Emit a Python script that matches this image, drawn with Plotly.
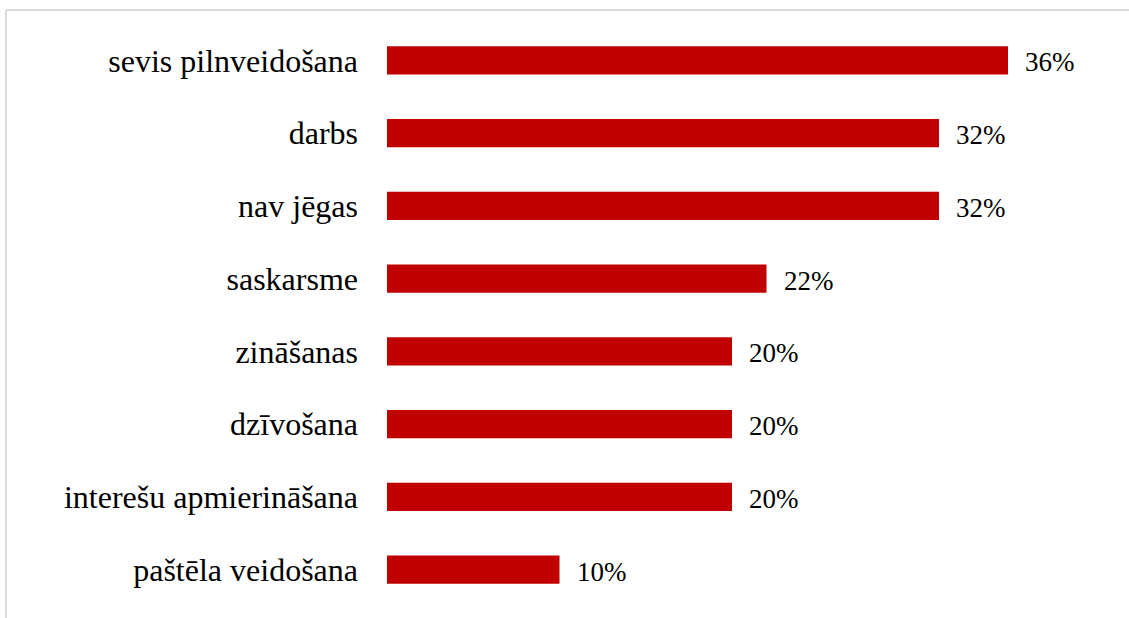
import plotly.graph_objects as go

categories = [
    "sevis pilnveidošana",
    "darbs",
    "nav jēgas",
    "saskarsme",
    "zināšanas",
    "dzīvošana",
    "interešu apmierināšana",
    "paštēla veidošana",
]
values = [36, 32, 32, 22, 20, 20, 20, 10]

SERIF = "Liberation Serif, Times New Roman, serif"
W, H = 1129, 618
ML, MR, MT, MB = 387, 18, 24, 12
plot_w = W - ML - MR
plot_h = H - MT - MB
px_per_unit = 17.25

fig = go.Figure(
    go.Bar(
        x=values,
        y=categories,
        orientation="h",
        marker=dict(color="#C00000", line=dict(width=0)),
        width=0.39,
        hoverinfo="skip",
    )
)

# value labels to the right of each bar
for cat, v in zip(categories, values):
    fig.add_annotation(
        x=v, y=cat, text=f"{v}%", showarrow=False,
        xanchor="left", yanchor="middle", xshift=15, yshift=-2,
        font=dict(family=SERIF, size=27, color="#000000"),
    )

# light frame lines along the top and left edges
def px_to_paper_x(px):
    return (px - ML) / plot_w

def px_to_paper_y(py):
    return 1 - (py - MT) / plot_h

fx0, fy0 = px_to_paper_x(6), px_to_paper_y(10)
fig.add_shape(type="line", xref="paper", yref="paper",
              x0=fx0, x1=px_to_paper_x(W + 10), y0=fy0, y1=fy0,
              line=dict(color="#D9D9D9", width=2))
fig.add_shape(type="line", xref="paper", yref="paper",
              x0=fx0, x1=fx0, y0=fy0, y1=px_to_paper_y(H + 10),
              line=dict(color="#D9D9D9", width=2))

fig.update_layout(
    width=W, height=H,
    margin=dict(l=ML, r=MR, t=MT, b=MB, pad=0),
    paper_bgcolor="#FFFFFF", plot_bgcolor="#FFFFFF",
    showlegend=False,
    font=dict(family=SERIF, size=27, color="#000000"),
    xaxis=dict(range=[0, plot_w / px_per_unit], visible=False, fixedrange=True),
    yaxis=dict(
        autorange="reversed", showgrid=False, zeroline=False, showline=False,
        ticks="", ticklabelstandoff=28, fixedrange=True,
        tickfont=dict(family=SERIF, size=32, color="#000000"),
    ),
)

fig.write_html("out.html", config={"displayModeBar": False})
